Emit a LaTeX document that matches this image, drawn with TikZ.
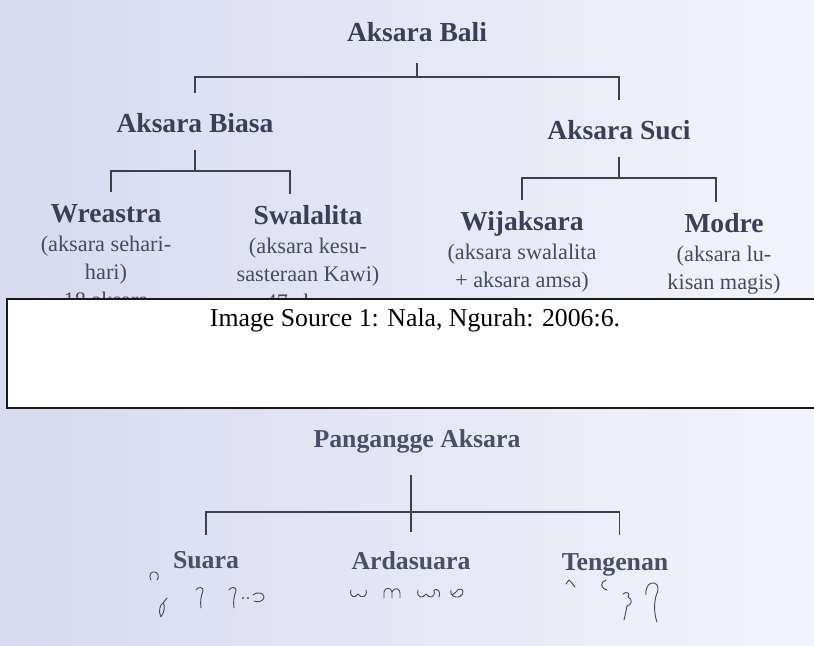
\documentclass[tikz,border=0pt]{standalone}
\usepackage{fontspec}
\setmainfont{Liberation Serif}
\usepackage{xcolor}
\usetikzlibrary{positioning}

\definecolor{pageL}{HTML}{D7DAF0}
\definecolor{pageM}{HTML}{DFE2F4}
\definecolor{pageR}{HTML}{F3F4FB}
\definecolor{inkhead}{HTML}{3A3E56}
\definecolor{inklow}{HTML}{4A4E67}
\definecolor{inknote}{HTML}{474B60}
\definecolor{inkline}{HTML}{3E404E}

\begin{document}
\begin{tikzpicture}[x=0.03cm,y=-0.03cm,
	head/.style={font=\bfseries\fontsize{23.5}{28}\selectfont,text=inkhead,inner sep=0pt,anchor=base,text height=15.5pt,text depth=0pt},
	headlow/.style={head,font=\bfseries\fontsize{22}{26}\selectfont,text=inklow,text height=14.5pt},
	note/.style={font=\fontsize{19}{23.5}\selectfont,text=inknote,inner sep=0pt,align=center},
	branch/.style={draw=inkline,line width=1.5pt},
	glyph/.style={draw=inknote,line width=0.8pt,line cap=round,line join=round},
	sourcebox/.style={draw=black!90,line width=1.4pt,fill=white},
	caption/.style={font=\fontsize{22}{26}\selectfont,text=black,inner sep=0pt,anchor=base}]

	\useasboundingbox (0,0) rectangle (814,646);
	\clip (0,0) rectangle (814,646);
	\shade[left color=pageL,middle color=pageM,right color=pageR] (0,0) rectangle (814,646);

	% Aksara Bali
	\node[head] (bali)      at (417,42)  {Aksara Bali};
	\node[head] (biasa)     at (195,132) {Aksara Biasa};
	\node[head] (suci)      at (619,139) {Aksara Suci};
	\node[head] (wreastra)  at (106,222) {Wreastra};
	\node[head] (swalalita) at (308,224) {Swalalita};
	\node[head] (wijaksara) at (522,230) {Wijaksara};
	\node[head] (modre)     at (724,232) {Modre};

	\node[note,below=12pt of wreastra]  (wreastraNote)  {(aksara sehari-\\hari)\\18 aksara};
	\node[note,below=12pt of swalalita] (swalalitaNote) {(aksara kesu-\\sasteraan Kawi)\\47 aksara};
	\node[note,below=12pt of wijaksara] (wijaksaraNote) {(aksara swalalita\\+ aksara amsa)};
	\node[note,below=12pt of modre]     (modreNote)     {(aksara lu-\\kisan magis)};

	\coordinate (baliBar)  at (417,77);
	\coordinate (biasaBar) at (198,171);
	\coordinate (suciBar)  at (618,178);

	\draw[branch,shorten <=18pt] (bali.south) -- (bali.south |- baliBar);
	\draw[branch,shorten <=17.7pt,shorten >=17.7pt] (biasa.north) |- (baliBar) -| (suci.north);
	\draw[branch,shorten <=15.4pt] (biasa.south) -- (biasa.south |- biasaBar);
	\draw[branch,shorten <=10pt,shorten >=10pt] ([xshift=4pt]wreastra.north) |- (biasaBar) -| ([xshift=-15.4pt]swalalita.north);
	\draw[branch,shorten <=15.4pt] (suci.south) -- (suci.south |- suciBar);
	\draw[branch,shorten <=10pt,shorten >=10pt] (wijaksara.north) |- (suciBar) -| ([xshift=-6.8pt]modre.north);

	% source box
	\draw[sourcebox] (7,299) rectangle (830,408);
	\node[caption] (source) at (415,326) {Image Source 1: Nala, Ngurah: 2006:6.};

	% Pangangge Aksara
	\node[headlow] (pangangge) at (417,447) {Pangangge Aksara};
	\node[headlow] (suara)     at (206,568) {Suara};
	\node[headlow] (ardasuara) at (411,569) {Ardasuara};
	\node[headlow] (tengenan)  at (615,570) {Tengenan};

	\coordinate (panganggeBar) at (411,512);
	\draw[branch,line width=1.2pt,shorten <=23.9pt,shorten >=17pt] (pangangge.south -| ardasuara.north) -- (ardasuara.north);
	\draw[branch,line width=1.2pt,shorten <=13.7pt,shorten >=15.4pt] (suara.north) |- (panganggeBar) -| ([xshift=4pt]tengenan.north);

	% aksara marks
	\draw[glyph] (151,580) .. controls (148,574) and (152,571) .. (155,572) .. controls (159,573) and (159,578) .. (157,580);
	\draw[glyph] (161,617) .. controls (158,612) and (160,604) .. (163,603) .. controls (165,604) and (165,612) .. (161,617);
	\draw[glyph] (163,603) -- (167,598);
	\draw[glyph] (196,590) .. controls (198,586) and (204,587) .. (203,591) .. controls (201,596) and (200,601) .. (201,608);
	\draw[glyph] (229,590) .. controls (231,586) and (237,587) .. (236,591) .. controls (234,596) and (233,601) .. (234,608);
	\fill[inknote] (243,598) circle (0.9pt) (248,598) circle (0.9pt);
	\draw[glyph] (253,595) .. controls (257,591) and (264,593) .. (264,597) .. controls (264,601) and (258,603) .. (254,601);

	\draw[glyph] (351,590) .. controls (349,597) and (355,599) .. (358,594) .. controls (361,599) and (368,597) .. (366,590);
	\draw[glyph] (384,598) -- (384,592) .. controls (385,587) and (391,587) .. (392,592) -- (392,598);
	\draw[glyph] (392,592) .. controls (394,587) and (400,588) .. (400,593) -- (400,598);
	\draw[glyph] (418,590) .. controls (416,598) and (423,599) .. (426,594) .. controls (429,599) and (436,598) .. (434,590) .. controls (438,588) and (441,592) .. (439,597);
	\draw[glyph] (451,590) .. controls (449,598) and (462,600) .. (463,592) .. controls (463,588) and (458,588) .. (456,592) -- (452,595);

	\draw[glyph] (566,584) -- (569,580) .. controls (571,582) and (573,584) .. (575,587);
	\draw[glyph] (606,580) .. controls (600,582) and (600,588) .. (607,590);
	\draw[glyph] (623,594) .. controls (626,591) and (631,593) .. (628,597) .. controls (633,599) and (632,605) .. (627,606) .. controls (626,611) and (625,616) .. (624,620);
	\draw[glyph] (646,595) .. controls (645,586) and (650,582) .. (654,583) .. controls (659,584) and (659,590) .. (656,596) .. controls (654,603) and (654,614) .. (657,622);

\end{tikzpicture}
\end{document}
